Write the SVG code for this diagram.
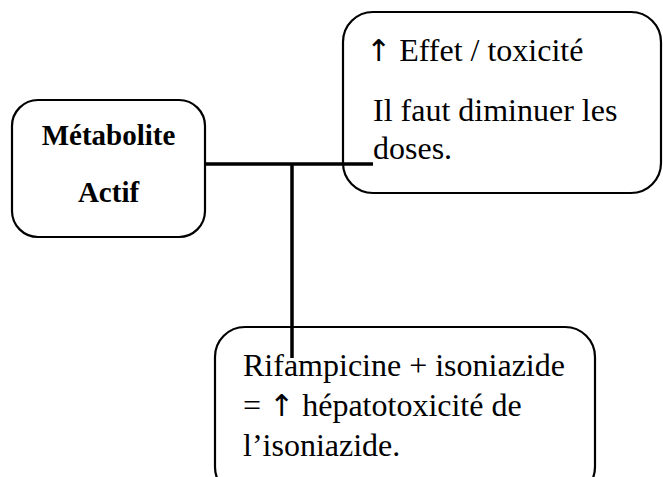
<svg xmlns="http://www.w3.org/2000/svg" width="663" height="477" viewBox="0 0 663 477">
<style>
.box{fill:#fff;stroke:#000;stroke-width:2.2}
.t{font-family:"Liberation Serif","Times New Roman",serif;font-size:32px;fill:#000}
.b{font-family:"Liberation Serif","Times New Roman",serif;font-size:29px;font-weight:bold;fill:#000}
.ar{font-family:"DejaVu Sans",sans-serif;font-size:30px;fill:#000}
.c{stroke:#000;stroke-width:3.5;fill:none}
</style>
<rect width="663" height="477" fill="#fff"/>
<g id="node-metabolite">
<rect class="box" x="12" y="100" width="193" height="137" rx="26"/>
<text class="b" x="108.5" y="145" text-anchor="middle">Métabolite</text>
<text class="b" x="108.5" y="202" text-anchor="middle">Actif</text>
</g>
<g id="node-effet">
<rect class="box" x="343" y="12" width="318" height="181" rx="30"/>
<text class="t" x="366" y="61"><tspan class="ar">↑</tspan> Effet / toxicité</text>
<text class="t" x="373" y="121">Il faut diminuer les</text>
<text class="t" x="373" y="159">doses.</text>
</g>
<g id="node-rifampicine">
<rect class="box" x="215" y="327" width="380" height="170" rx="30"/>
<text class="t" x="243" y="376">Rifampicine + isoniazide</text>
<text class="t" x="243" y="416">= <tspan class="ar">↑</tspan> hépatotoxicité de</text>
<text class="t" x="243" y="456">l’isoniazide.</text>
</g>
<g id="connectors">
<line class="c" x1="204" y1="164" x2="373" y2="164"/>
<line class="c" x1="292" y1="164" x2="292" y2="358"/>
</g>
</svg>
